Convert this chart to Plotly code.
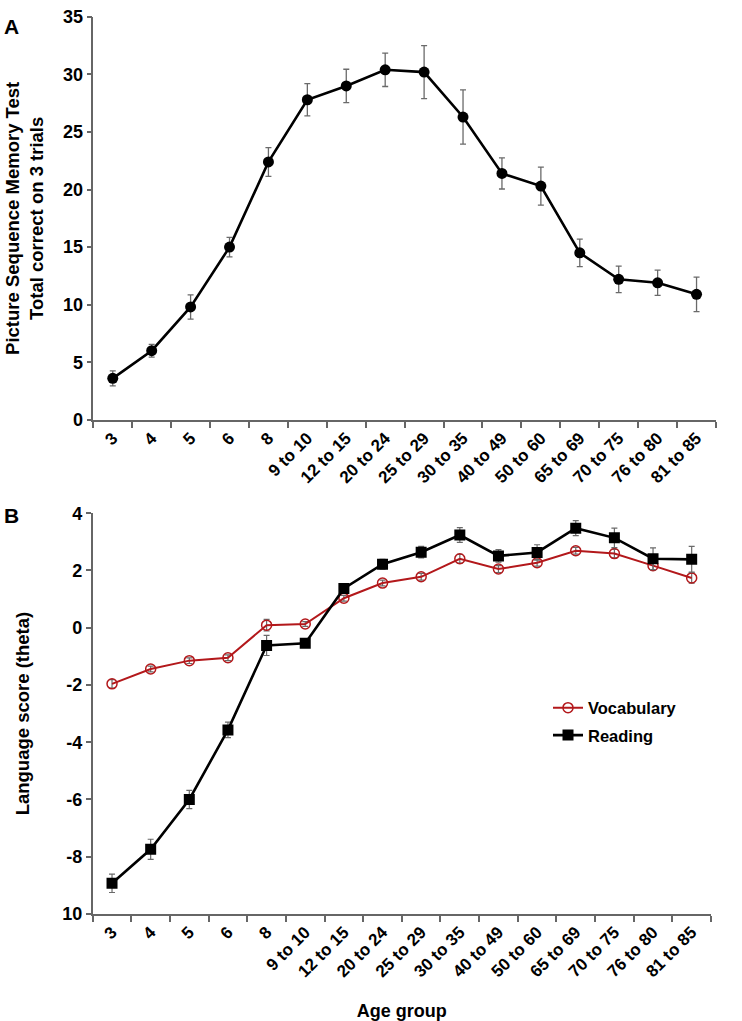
import plotly.graph_objects as go

age_groups = ["3", "4", "5", "6", "8", "9 to 10", "12 to 15", "20 to 24", "25 to 29",
              "30 to 35", "40 to 49", "50 to 60", "65 to 69", "70 to 75", "76 to 80", "81 to 85"]

memory_mean = [3.6, 6.0, 9.8, 15.0, 22.4, 27.8, 29.0, 30.4, 30.2, 26.3, 21.4, 20.3, 14.5, 12.2, 11.9, 10.9]
memory_err = [0.65, 0.55, 1.05, 0.85, 1.25, 1.4, 1.45, 1.45, 2.3, 2.35, 1.35, 1.65, 1.2, 1.15, 1.1, 1.5]

vocab_mean = [-1.96, -1.44, -1.15, -1.05, 0.09, 0.13, 1.03, 1.56, 1.78, 2.41, 2.05, 2.27, 2.69, 2.59, 2.17, 1.74]
vocab_err = [0.15, 0.1, 0.1, 0.1, 0.2, 0.08, 0.1, 0.1, 0.12, 0.15, 0.12, 0.12, 0.12, 0.15, 0.15, 0.18]

read_mean = [-8.93, -7.74, -6.0, -3.57, -0.62, -0.54, 1.37, 2.22, 2.64, 3.24, 2.51, 2.63, 3.48, 3.14, 2.41, 2.39]
read_err = [0.32, 0.35, 0.32, 0.27, 0.35, 0.12, 0.1, 0.17, 0.2, 0.26, 0.22, 0.27, 0.26, 0.34, 0.38, 0.45]

b_ticks = [-10, -8, -6, -4, -2, 0, 2, 4]
b_ticktext = ["10", "-8", "-6", "-4", "-2", "0", "2", "4"]

W, H = 742, 1021
FONT = "Liberation Sans, Arial, Helvetica, sans-serif"
AX = "#666666"
ERR = "#6a6a6a"

def py(p):
    return 1 - p / H

fig = go.Figure()

fig.add_trace(go.Scatter(
    x=age_groups, y=memory_mean, mode="lines+markers", name="Picture Sequence Memory",
    line=dict(color="black", width=2.6), marker=dict(symbol="circle", size=11, color="black"),
    error_y=dict(type="data", array=memory_err, color=ERR, thickness=1.3, width=3),
    xaxis="x", yaxis="y", showlegend=False))

fig.add_trace(go.Scatter(
    x=age_groups, y=vocab_mean, mode="lines+markers", name="Vocabulary", legendgroup="v",
    line=dict(color="#b3181b", width=2), marker=dict(symbol="circle-open", size=10, color="#b3181b", line=dict(width=1.5)),
    error_y=dict(type="data", array=vocab_err, color=ERR, thickness=1.2, width=3),
    xaxis="x2", yaxis="y2"))

fig.add_trace(go.Scatter(
    x=age_groups, y=read_mean, mode="lines+markers", name="Reading", legendgroup="r",
    line=dict(color="black", width=2.6), marker=dict(symbol="square", size=11, color="black"),
    error_y=dict(type="data", array=read_err, color=ERR, thickness=1.2, width=3),
    xaxis="x2", yaxis="y2"))

xcommon = dict(type="category", tickson="boundaries", tickangle=-45, showline=True, linecolor=AX,
               linewidth=1.5, ticks="outside", ticklen=6, tickcolor=AX, tickwidth=1.5,
               tickfont=dict(size=17, color="black", family=FONT, weight="bold"),
               showgrid=False, zeroline=False, range=[-0.5, 15.5], fixedrange=True)
ycommon = dict(showline=True, linecolor=AX, linewidth=1.5, ticks="outside", ticklen=5, tickcolor=AX,
               tickwidth=1.5, tickfont=dict(size=18, color="black", family=FONT, weight="bold"),
               showgrid=False, zeroline=False)

fig.update_layout(
    width=W, height=H, margin=dict(l=0, r=0, t=0, b=0),
    paper_bgcolor="white", plot_bgcolor="white",
    font=dict(family=FONT, color="black", weight="bold"),
    xaxis=dict(xcommon, domain=[93.3 / W, 716 / W], anchor="y"),
    yaxis=dict(ycommon, domain=[py(418), py(7)], range=[0, 35], dtick=5, anchor="x",
               title=dict(text="Picture Sequence Memory Test<br>Total correct on 3 trials",
                          font=dict(size=18.5, family=FONT, weight="bold"), standoff=14)),
    xaxis2=dict(xcommon, domain=[92.7 / W, 711 / W], anchor="y2",
                title=dict(text="Age group", font=dict(size=18, family=FONT, weight="bold"), standoff=24)),
    yaxis2=dict(ycommon, domain=[py(922), py(513.3)], range=[-10, 4], tickvals=b_ticks,
                ticktext=b_ticktext, anchor="x2",
                title=dict(text="Language score (theta)", font=dict(size=18.5, family=FONT, weight="bold"),
                           standoff=28)),
    legend=dict(x=548 / W, y=py(694), xanchor="left", yanchor="top", bgcolor="rgba(0,0,0,0)",
                font=dict(size=16.5, family=FONT, weight="bold"), itemwidth=30,
                traceorder="grouped", tracegroupgap=3),
    annotations=[
        dict(text="A", x=2 / W, y=py(3), xref="paper", yref="paper", xanchor="left", yanchor="top",
             showarrow=False, font=dict(size=21, family=FONT, weight="bold")),
        dict(text="B", x=2 / W, y=py(502), xref="paper", yref="paper", xanchor="left", yanchor="top",
             showarrow=False, font=dict(size=21, family=FONT, weight="bold")),
    ],
)

fig.write_html("out.html", config={"displayModeBar": False},
               post_script="document.body.style.margin='0';document.body.style.overflow='hidden';")
